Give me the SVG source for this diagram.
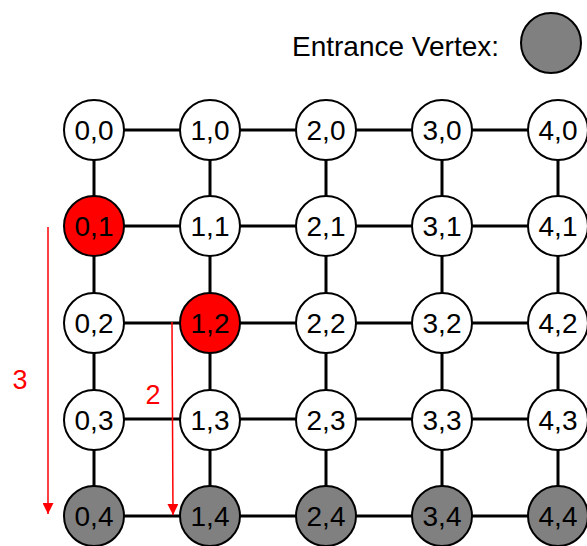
<svg xmlns="http://www.w3.org/2000/svg" width="587" height="546" viewBox="0 0 587 546">
  <defs>
    <style>
      .edge { stroke: #000; stroke-width: 3; fill: none; }
      .node circle { stroke: #000; stroke-width: 2; fill: #fff; }
      .node.red circle { fill: #ff0000; }
      .node.entry circle { fill: #808080; }
      .node text { font-family: "Liberation Sans", Arial, sans-serif; font-size: 28px; text-anchor: middle; fill: #000; }
      .dist { stroke: #ff0000; stroke-width: 1.5; fill: none; }
      .distlabel { font-family: "Liberation Sans", Arial, sans-serif; font-size: 27px; fill: #ff0000; text-anchor: middle; }
    </style>
    <marker id="redhead" viewBox="0 0 10 10" refX="10" refY="5" markerWidth="11" markerHeight="11" markerUnits="userSpaceOnUse" orient="auto">
      <path d="M0,0 L10,5 L0,10 Z" fill="#ff0000"/>
    </marker>
  </defs>

  <rect width="587" height="546" fill="#fff"/>

  <!-- legend -->
  <g id="legend">
    <text x="292" y="56" font-family="Liberation Sans, Arial, sans-serif" font-size="28" fill="#000">Entrance Vertex:</text>
    <circle cx="551" cy="43" r="30" fill="#808080" stroke="#000" stroke-width="2"/>
  </g>

  <!-- grid edges -->
  <g id="edges">
    <!-- horizontal -->
    <line class="edge" x1="94" y1="130" x2="587" y2="130"/>
    <line class="edge" x1="94" y1="226" x2="587" y2="226"/>
    <line class="edge" x1="94" y1="323" x2="587" y2="323"/>
    <line class="edge" x1="94" y1="419" x2="587" y2="419"/>
    <line class="edge" x1="94" y1="516" x2="587" y2="516"/>
    <!-- vertical -->
    <line class="edge" x1="94" y1="130" x2="94" y2="516"/>
    <line class="edge" x1="210" y1="130" x2="210" y2="516"/>
    <line class="edge" x1="326" y1="130" x2="326" y2="516"/>
    <line class="edge" x1="442" y1="130" x2="442" y2="516"/>
    <line class="edge" x1="558" y1="130" x2="558" y2="516"/>
  </g>

  <!-- distance arrows -->
  <g id="distances">
    <line class="dist" x1="48" y1="227" x2="48" y2="514" marker-end="url(#redhead)"/>
    <text class="distlabel" x="20" y="389">3</text>
    <line class="dist" x1="172" y1="322" x2="173" y2="515" marker-end="url(#redhead)"/>
    <text class="distlabel" x="153" y="404">2</text>
  </g>

  <!-- row 0 -->
  <g id="n0_0" class="node"><circle cx="94" cy="130" r="30"/><text x="94" y="140">0,0</text></g>
  <g id="n1_0" class="node"><circle cx="210" cy="130" r="30"/><text x="210" y="140">1,0</text></g>
  <g id="n2_0" class="node"><circle cx="326" cy="130" r="30"/><text x="326" y="140">2,0</text></g>
  <g id="n3_0" class="node"><circle cx="442" cy="130" r="30"/><text x="442" y="140">3,0</text></g>
  <g id="n4_0" class="node"><circle cx="558" cy="130" r="30"/><text x="558" y="140">4,0</text></g>
  <!-- row 1 -->
  <g id="n0_1" class="node red"><circle cx="94" cy="226" r="30"/><text x="94" y="236">0,1</text></g>
  <g id="n1_1" class="node"><circle cx="210" cy="226" r="30"/><text x="210" y="236">1,1</text></g>
  <g id="n2_1" class="node"><circle cx="326" cy="226" r="30"/><text x="326" y="236">2,1</text></g>
  <g id="n3_1" class="node"><circle cx="442" cy="226" r="30"/><text x="442" y="236">3,1</text></g>
  <g id="n4_1" class="node"><circle cx="558" cy="226" r="30"/><text x="558" y="236">4,1</text></g>
  <!-- row 2 -->
  <g id="n0_2" class="node"><circle cx="94" cy="323" r="30"/><text x="94" y="333">0,2</text></g>
  <g id="n1_2" class="node red"><circle cx="210" cy="323" r="30"/><text x="210" y="333">1,2</text></g>
  <g id="n2_2" class="node"><circle cx="326" cy="323" r="30"/><text x="326" y="333">2,2</text></g>
  <g id="n3_2" class="node"><circle cx="442" cy="323" r="30"/><text x="442" y="333">3,2</text></g>
  <g id="n4_2" class="node"><circle cx="558" cy="323" r="30"/><text x="558" y="333">4,2</text></g>
  <!-- row 3 -->
  <g id="n0_3" class="node"><circle cx="94" cy="420" r="30"/><text x="94" y="430">0,3</text></g>
  <g id="n1_3" class="node"><circle cx="210" cy="420" r="30"/><text x="210" y="430">1,3</text></g>
  <g id="n2_3" class="node"><circle cx="326" cy="420" r="30"/><text x="326" y="430">2,3</text></g>
  <g id="n3_3" class="node"><circle cx="442" cy="420" r="30"/><text x="442" y="430">3,3</text></g>
  <g id="n4_3" class="node"><circle cx="558" cy="420" r="30"/><text x="558" y="430">4,3</text></g>
  <!-- row 4: entrance vertices -->
  <g id="n0_4" class="node entry"><circle cx="94" cy="516" r="30"/><text x="94" y="526">0,4</text></g>
  <g id="n1_4" class="node entry"><circle cx="210" cy="516" r="30"/><text x="210" y="526">1,4</text></g>
  <g id="n2_4" class="node entry"><circle cx="326" cy="516" r="30"/><text x="326" y="526">2,4</text></g>
  <g id="n3_4" class="node entry"><circle cx="442" cy="516" r="30"/><text x="442" y="526">3,4</text></g>
  <g id="n4_4" class="node entry"><circle cx="558" cy="516" r="30"/><text x="558" y="526">4,4</text></g>
</svg>
